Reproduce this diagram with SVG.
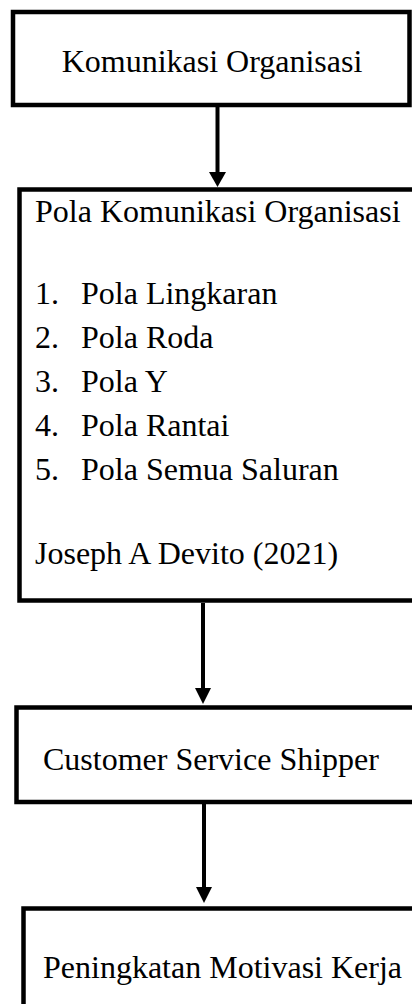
<svg xmlns="http://www.w3.org/2000/svg" width="412" height="1004" viewBox="0 0 412 1004">
<defs>
<style>
.box{fill:#ffffff;stroke:#000000;stroke-width:4.5}
.t{font-family:"Liberation Serif","Times New Roman",serif;font-size:32px;fill:#000000}
.ln{stroke:#000000;stroke-width:4;fill:none}
.ah{fill:#000000}
</style>
</defs>
<rect width="412" height="1004" fill="#ffffff"/>
<g id="node-komunikasi">
<rect class="box" x="13" y="12" width="396.5" height="93"/>
<text class="t" x="212" y="72" text-anchor="middle">Komunikasi Organisasi</text>
</g>
<g id="node-pola">
<rect class="box" x="19.5" y="189.5" width="420" height="411"/>
<text class="t" x="35" y="222">Pola Komunikasi Organisasi</text>
<text class="t" x="35" y="304">1.</text><text class="t" x="81" y="304">Pola Lingkaran</text>
<text class="t" x="35" y="348">2.</text><text class="t" x="81" y="348">Pola Roda</text>
<text class="t" x="35" y="392">3.</text><text class="t" x="81" y="392">Pola Y</text>
<text class="t" x="35" y="436">4.</text><text class="t" x="81" y="436">Pola Rantai</text>
<text class="t" x="35" y="480">5.</text><text class="t" x="81" y="480">Pola Semua Saluran</text>
<text class="t" x="35" y="564">Joseph A Devito (2021)</text>
</g>
<g id="node-customer">
<rect class="box" x="16.5" y="707.5" width="420" height="94.5"/>
<text class="t" x="43" y="770">Customer Service Shipper</text>
</g>
<g id="node-peningkatan">
<rect class="box" x="23.5" y="908.5" width="420" height="140"/>
<text class="t" x="43" y="978">Peningkatan Motivasi Kerja</text>
</g>
<g id="connectors">
<line class="ln" x1="217.5" y1="107" x2="217.5" y2="174"/>
<polygon class="ah" points="209,172 226,172 217.5,187"/>
<line class="ln" x1="203" y1="603" x2="203" y2="690"/>
<polygon class="ah" points="195,688 211,688 203,704"/>
<line class="ln" x1="204" y1="804" x2="204" y2="889"/>
<polygon class="ah" points="196,887 212,887 204,903"/>
</g>
</svg>
